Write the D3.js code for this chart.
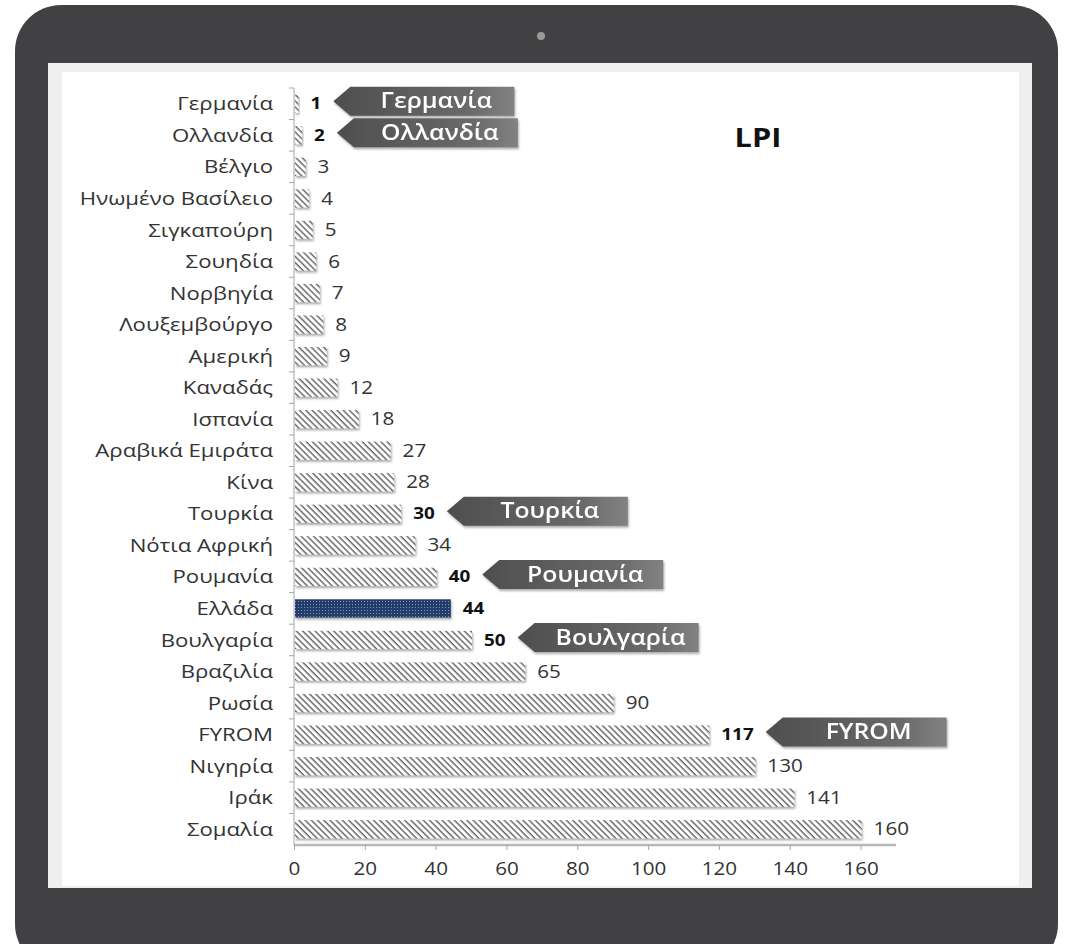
<!DOCTYPE html>
<html>
<head>
<meta charset="utf-8">
<script src="https://cdn.jsdelivr.net/npm/d3@7/dist/d3.min.js"></script>
<style>
  html, body { margin: 0; padding: 0; background: #fff; }
  svg { display: block; }
  text { font-family: "Open Sans", "DejaVu Sans", sans-serif; }
</style>
</head>
<body>
<div id="chart"></div>
<script>
// LPI ranking per country
var countries = ['Γερμανία', 'Ολλανδία', 'Βέλγιο', 'Ηνωμένο Βασίλειο', 'Σιγκαπούρη',
    'Σουηδία', 'Νορβηγία', 'Λουξεμβούργο', 'Αμερική', 'Καναδάς', 'Ισπανία',
    'Αραβικά Εμιράτα', 'Κίνα', 'Τουρκία', 'Νότια Αφρική', 'Ρουμανία', 'Ελλάδα',
    'Βουλγαρία', 'Βραζιλία', 'Ρωσία', 'FYROM', 'Νιγηρία', 'Ιράκ', 'Σομαλία'];
var ranks = [1, 2, 3, 4, 5, 6, 7, 8, 9, 12, 18, 27, 28, 30, 34, 40, 44, 50, 65, 90, 117, 130, 141, 160];
var xTicks = [0, 20, 40, 60, 80, 100, 120, 140, 160];
var highlighted = 'Ελλάδα';
var boldLabels = ['Γερμανία', 'Ολλανδία', 'Τουρκία', 'Ρουμανία', 'Ελλάδα', 'Βουλγαρία', 'FYROM'];
var callouts = ['Γερμανία', 'Ολλανδία', 'Τουρκία', 'Ρουμανία', 'Βουλγαρία', 'FYROM'];
var chartTitle = 'LPI';

var W = 1072, H = 944;
var SX = 1.18; // the source picture is a bit wide, stretch text to match

var svg = d3.select('#chart').append('svg')
    .attr('width', W)
    .attr('height', H);

var defs = svg.append('defs');

// diagonal hatch for normal bars
var hatch = defs.append('pattern')
    .attr('id', 'hatch')
    .attr('patternUnits', 'userSpaceOnUse')
    .attr('width', 4.4)
    .attr('height', 4.4)
    .attr('patternTransform', 'rotate(-45)');
hatch.append('rect').attr('width', 4.4).attr('height', 4.4).attr('fill', '#fff');
hatch.append('line')
    .attr('x1', 1).attr('y1', 0).attr('x2', 1).attr('y2', 4.4)
    .attr('stroke', '#555')
    .attr('stroke-width', 1.3);

// dotted navy for Greece
var dots = defs.append('pattern')
    .attr('id', 'dots')
    .attr('patternUnits', 'userSpaceOnUse')
    .attr('width', 3)
    .attr('height', 3);
dots.append('rect').attr('width', 3).attr('height', 3).attr('fill', '#223d6b');
dots.append('rect').attr('x', 1).attr('y', 1).attr('width', 1).attr('height', 1).attr('fill', '#7f97c0');

var shadow = defs.append('filter')
    .attr('id', 'shadow')
    .attr('x', '-10%').attr('y', '-30%')
    .attr('width', '130%').attr('height', '180%');
shadow.append('feDropShadow')
    .attr('dx', 1).attr('dy', 2)
    .attr('stdDeviation', 1.3)
    .attr('flood-color', '#777')
    .attr('flood-opacity', 0.6);

var calloutGrad = defs.append('linearGradient')
    .attr('id', 'calloutGrad')
    .attr('x1', '0%').attr('y1', '0%').attr('x2', '100%').attr('y2', '0%');
calloutGrad.append('stop').attr('offset', '0%').attr('stop-color', '#4e4e4e');
calloutGrad.append('stop').attr('offset', '75%').attr('stop-color', '#6a6a6a');
calloutGrad.append('stop').attr('offset', '100%').attr('stop-color', '#828282');

// tablet frame
svg.append('rect')
    .attr('x', 15).attr('y', 5)
    .attr('width', 1043).attr('height', 965)
    .attr('rx', 46)
    .attr('fill', '#414143');

svg.append('circle')
    .attr('cx', 541).attr('cy', 36).attr('r', 4)
    .attr('fill', '#9a9a9a');

// screen
svg.append('rect')
    .attr('x', 48).attr('y', 63)
    .attr('width', 984).attr('height', 825)
    .attr('fill', '#efefef');
svg.append('rect')
    .attr('x', 62).attr('y', 72)
    .attr('width', 957).attr('height', 814)
    .attr('fill', '#fff');

// scales
var x = d3.scaleLinear()
    .domain([0, 170])
    .range([294, 896]);

var y = d3.scaleBand()
    .domain(countries)
    .range([88, 845])
    .paddingInner(0.42)
    .paddingOuter(0.21);

var axisColor = '#a6a6a6';
var textColor = '#333';

// x axis
var xAxis = d3.axisBottom(x)
    .tickValues(xTicks)
    .tickSize(5)
    .tickPadding(13);

var gx = svg.append('g')
    .attr('transform', 'translate(0,845)')
    .call(xAxis);
gx.select('.domain')
    .attr('stroke', '#b8b8b8')
    .attr('stroke-width', 2.5)
    .attr('d', 'M' + x(0) + ',0H' + x(170));
gx.selectAll('.tick line').attr('stroke', axisColor);
gx.selectAll('.tick text')
    .attr('fill', textColor)
    .attr('x', 0)
    .attr('transform', 'scale(' + SX + ',1)')
    .style('font-size', '17.5px');

// y axis: line with ticks at band boundaries
var gy = svg.append('g');
gy.append('line')
    .attr('x1', x(0)).attr('x2', x(0))
    .attr('y1', y.range()[0]).attr('y2', y.range()[1])
    .attr('stroke', axisColor)
    .attr('stroke-width', 1);
gy.selectAll('.ytick')
    .data(countries)
    .enter()
    .append('line')
    .attr('class', 'ytick')
    .attr('x1', x(0) - 5).attr('x2', x(0))
    .attr('y1', function(d) { return y(d) - y.step() * y.paddingInner() / 2; })
    .attr('y2', function(d) { return y(d) - y.step() * y.paddingInner() / 2; })
    .attr('stroke', axisColor);

gy.selectAll('.ylabel')
    .data(countries)
    .enter()
    .append('text')
    .attr('class', 'ylabel')
    .attr('x', 273 / SX)
    .attr('y', function(d) { return y(d) + y.bandwidth() / 2; })
    .attr('dy', '0.35em')
    .attr('transform', 'scale(' + SX + ',1)')
    .attr('text-anchor', 'end')
    .attr('fill', textColor)
    .style('font-size', '18.8px')
    .text(function(d) { return d; });

// bars
var data = countries.map(function(c, i) { return { name: c, value: ranks[i] }; });

svg.append('g')
    .selectAll('rect')
    .data(data)
    .enter()
    .append('rect')
    .attr('x', x(0) + 1)
    .attr('y', function(d) { return y(d.name); })
    .attr('width', function(d) { return x(d.value) - x(0); })
    .attr('height', y.bandwidth())
    .attr('fill', function(d) { return d.name === highlighted ? 'url(#dots)' : 'url(#hatch)'; })
    .attr('filter', 'url(#shadow)');

// value labels
function isBold(name) { return boldLabels.indexOf(name) >= 0; }

var valueLabels = svg.append('g')
    .selectAll('text')
    .data(data)
    .enter()
    .append('text')
    .attr('x', function(d) { return (x(d.value) + 13) / SX; })
    .attr('y', function(d) { return y(d.name) + y.bandwidth() / 2; })
    .attr('dy', '0.35em')
    .attr('transform', 'scale(' + SX + ',1)')
    .attr('fill', function(d) { return isBold(d.name) ? '#111' : textColor; })
    .attr('font-weight', function(d) { return isBold(d.name) ? 'bold' : 'normal'; })
    .style('font-size', function(d) { return isBold(d.name) ? '16px' : '17.5px'; })
    .text(function(d) { return d.value; });

var labelEnd = {};
valueLabels.each(function(d) {
    labelEnd[d.name] = x(d.value) + 13 + this.getComputedTextLength() * SX;
});

// callouts (arrow tags pointing left)
var tagW = 181, tagH = 29, tipW = 17;
var tags = svg.append('g')
    .selectAll('g')
    .data(callouts)
    .enter()
    .append('g')
    .attr('transform', function(d) {
        var cy = y(d) + y.bandwidth() / 2 - 2.5;
        return 'translate(' + (labelEnd[d] + 12) + ',' + (cy - tagH / 2) + ')';
    })
    .attr('filter', 'url(#shadow)');

tags.append('path')
    .attr('d', 'M0,' + (tagH / 2) + 'L' + tipW + ',0H' + tagW + 'V' + tagH + 'H' + tipW + 'Z')
    .attr('fill', 'url(#calloutGrad)');

tags.append('text')
    .attr('x', ((tipW + tagW) / 2 + 4) / SX)
    .attr('y', tagH / 2)
    .attr('dy', '0.34em')
    .attr('transform', 'scale(' + SX + ',1)')
    .attr('text-anchor', 'middle')
    .attr('fill', '#fff')
    .attr('font-weight', 600)
    .style('font-size', '21px')
    .text(function(d) { return d; });

// title
svg.append('text')
    .attr('x', 758 / SX)
    .attr('y', 138)
    .attr('dy', '0.35em')
    .attr('transform', 'scale(' + SX + ',1)')
    .attr('text-anchor', 'middle')
    .attr('font-weight', 'bold')
    .attr('fill', '#111')
    .style('font-size', '26px')
    .text(chartTitle);
</script>
</body>
</html>
